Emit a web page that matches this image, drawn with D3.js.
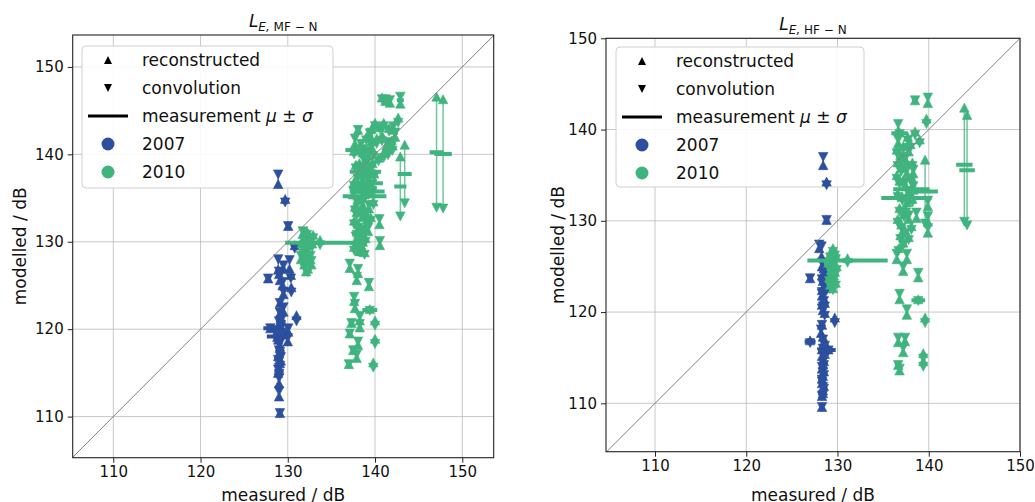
<!DOCTYPE html>
<html>
<head>
<meta charset="utf-8">
<script src="https://cdn.jsdelivr.net/npm/d3@7"></script>
<style>
  body { margin: 0; background: #fff; }
  text { font-family: "DejaVu Sans", sans-serif; }
</style>
</head>
<body>
<svg id="chart" width="1035" height="502"></svg>
<script>
// each event: [measured mean, measured sigma, reconstructed, convolution]  (dB)
const mf2007 = [
  [128.9, 0, 136.6, 137.7], [129.7, 0.4, 134.9, 134.5], [130.05, 0, 131.8, 131.8],
  [130.8, 0, 129.6, 129.2], [128.9, 0, 126.8, 128.0], [130.2, 0, 126.9, 127.9],
  [127.75, 0, 125.8, 125.8], [129.1, 0, 125.6, 126.2], [130.35, 0.4, 126.2, 125.8],
  [130.4, 0, 124.8, 124.2], [129.5, 0, 124.0, 124.3], [129.1, 0, 123.0, 123.0],
  [129.5, 0, 122.0, 122.5], [129.1, 0, 121.8, 121.9], [131.0, 0, 121.6, 120.9],
  [128.0, 0.8, 120.1, 120.1], [129.0, 0, 120.5, 120.9], [129.2, 0, 119.8, 120.2],
  [128.8, 1.2, 119.1, 119.2], [130.05, 0, 119.7, 120.1], [130.0, 0, 118.6, 119.0],
  [129.1, 0, 118.0, 118.4], [129.0, 0, 117.2, 117.6], [129.2, 0, 116.4, 116.8],
  [129.0, 0, 115.6, 115.6], [128.9, 0, 115.0, 115.4], [129.0, 0, 113.8, 114.4],
  [129.0, 0, 112.3, 112.9], [129.1, 0, 110.4, 110.4],
  [129.2, 0, 120.9, 120.5], [128.9, 0, 120.3, 119.9], [129.3, 0, 119.4, 119.0],
  [128.9, 0, 118.8, 118.5], [129.1, 0, 117.8, 117.4], [128.9, 0, 116.9, 116.5],
  [129.1, 0, 116.1, 115.8], [129.0, 0, 115.3, 114.9], [129.2, 0, 121.3, 121.0],
  [128.7, 0, 119.6, 119.5], [129.4, 0, 120.0, 119.6], [129.5, 0, 126.9, 127.3],
  [129.0, 0, 126.3, 126.6], [129.4, 0, 125.0, 125.4]
];

const mf2010 = [
  [140.8, 0, 146.5, 146.3], [141.2, 0.3, 146.1, 146.3], [141.7, 0, 145.9, 146.2],
  [142.9, 0.4, 145.8, 146.6], [142.65, 0, 144.2, 143.6], [138.05, 0, 142.8, 142.8],
  [140.55, 0.5, 143.1, 142.9], [139.4, 0, 142.2, 142.4], [142.3, 0, 142.0, 142.5],
  [141.5, 0, 140.6, 139.9], [137.7, 0, 141.2, 141.8], [138.15, 1.55, 140.6, 140.4],
  [139.0, 0, 142.0, 141.6], [139.6, 0, 141.5, 141.0], [140.2, 0, 141.8, 141.2],
  [140.8, 0, 142.2, 141.5], [141.3, 0, 141.0, 141.4], [141.9, 0, 141.6, 141.0],
  [138.6, 0, 140.2, 140.6], [139.2, 0, 139.8, 140.4], [139.8, 0, 140.4, 139.8],
  [140.4, 0, 139.6, 139.2], [141.0, 0, 140.2, 139.6], [142.0, 0, 141.0, 140.4],
  [141.6, 0, 143.0, 142.6], [141.0, 0, 143.6, 143.2], [142.1, 0, 142.8, 143.2],
  [140.0, 0, 143.6, 143.2], [139.6, 0, 142.9, 142.5],
  [138.2, 0, 139.0, 138.6], [138.8, 0, 138.6, 139.2], [139.4, 0, 138.0, 138.4],
  [138.0, 0, 137.6, 137.2], [138.6, 0, 137.0, 137.4], [139.2, 0, 136.6, 137.0],
  [138.9, 1.8, 138.2, 137.8], [138.2, 0, 136.0, 136.4], [138.8, 0, 135.6, 135.2],
  [139.5, 0, 135.9, 135.5], [139.2, 1.7, 136.9, 136.5], [139.1, 2.0, 135.9, 135.6],
  [138.8, 2.5, 135.4, 135.0], [138.95, 1.25, 136.3, 136.0], [138.0, 0, 134.8, 134.4],
  [138.6, 0, 134.2, 134.6], [139.3, 0, 133.8, 134.2], [137.9, 0, 133.4, 133.0],
  [138.5, 0, 132.8, 133.2], [139.1, 0, 132.6, 132.2], [138.1, 0, 132.0, 131.6],
  [138.7, 0, 131.4, 131.0], [138.3, 0, 130.8, 130.4], [137.8, 0, 130.2, 130.6],
  [138.4, 0, 129.6, 129.2], [138.2, 0, 129.0, 128.8],
  [137.6, 0, 140.4, 140.0], [138.4, 0, 140.8, 141.2], [139.0, 0, 139.4, 139.8],
  [139.7, 0, 139.0, 138.6], [137.8, 0, 138.8, 138.4], [139.9, 0, 137.8, 137.4],
  [137.6, 0, 136.8, 136.4], [139.7, 0, 136.2, 136.6], [137.5, 0, 135.4, 135.8],
  [139.8, 0, 134.6, 134.2], [137.7, 0, 134.0, 133.6], [138.9, 0, 133.4, 133.0],
  [139.5, 0, 132.8, 132.4], [137.6, 0, 132.4, 132.0], [138.9, 0, 131.8, 131.4],
  [137.9, 0, 131.2, 130.8], [138.9, 0, 130.4, 130.0], [138.6, 0, 130.0, 129.7],
  [137.6, 0, 129.4, 129.0], [138.8, 0, 128.8, 128.5],
  [143.4, 0.8, 141.1, 134.4], [142.9, 0.7, 139.75, 132.9],
  [147.05, 0.8, 146.6, 133.9], [147.8, 1.0, 146.3, 133.8],
  [140.5, 0, 132.0, 132.6], [139.2, 0, 131.2, 131.6], [140.55, 0, 129.6, 130.1],
  [138.2, 0, 128.9, 129.3], [137.1, 0, 127.0, 127.5], [138.05, 0, 126.4, 126.9],
  [137.9, 0, 125.6, 126.0], [139.3, 0, 124.9, 125.3], [137.6, 0, 123.2, 123.7],
  [137.7, 0, 122.4, 122.9], [139.4, 0.85, 122.3, 122.1], [138.25, 0, 121.0, 121.5],
  [137.3, 0, 120.7, 120.7], [140.0, 0, 121.0, 120.4], [138.25, 0, 120.2, 120.6],
  [137.1, 0, 119.5, 119.5], [140.0, 0, 118.9, 118.3], [138.05, 0, 118.2, 118.6],
  [137.5, 0, 117.6, 117.6], [137.9, 0, 116.7, 117.1], [137.0, 0, 116.0, 116.0],
  [139.8, 0, 116.2, 115.6],
  [133.7, 4.0, 130.2, 129.6],
  [132.2, 0, 131.2, 130.8], [131.9, 0, 130.6, 130.2], [132.5, 0, 130.4, 130.0],
  [131.6, 0, 129.8, 129.4], [132.3, 0, 129.6, 129.2], [132.8, 0, 129.8, 129.4],
  [131.8, 0, 129.0, 128.6], [132.4, 0, 128.8, 128.4], [132.0, 0, 128.2, 127.8],
  [132.6, 0, 128.0, 128.4], [131.9, 0, 127.4, 127.0], [132.3, 0, 126.9, 126.5],
  [131.7, 0, 130.9, 131.2], [132.9, 0, 130.8, 130.4], [131.5, 0, 128.0, 128.4],
  [132.7, 0, 127.4, 127.8], [132.1, 0, 126.6, 126.9], [132.0, 0, 129.9, 129.5]
];

const hf2007 = [
  [128.43, 0, 136.1, 137.0], [128.8, 0.3, 134.3, 133.9], [128.8, 0, 130.1, 130.1],
  [128.25, 0, 126.1, 127.2], [127.0, 0, 123.7, 123.7], [128.0, 0, 127.0, 127.4],
  [128.3, 0, 125.0, 125.4], [128.6, 0, 124.2, 124.6], [128.4, 0, 123.4, 123.0],
  [128.7, 0, 122.6, 122.2], [128.3, 0, 121.8, 122.2], [128.6, 0, 121.0, 120.6],
  [128.4, 0, 120.2, 120.6], [129.7, 0, 119.4, 118.8], [128.3, 0, 118.6, 118.6],
  [128.2, 0, 117.7, 118.1], [127.0, 0.6, 116.9, 116.6], [129.0, 0.8, 115.9, 115.8],
  [128.4, 0, 116.4, 116.0], [128.3, 0, 115.2, 115.6], [128.5, 0, 114.6, 114.2],
  [128.3, 0, 113.8, 114.0], [128.4, 0, 113.0, 113.4], [128.3, 0, 112.2, 112.6],
  [128.4, 0, 111.4, 111.8], [128.3, 0, 110.8, 110.8], [128.3, 0, 109.6, 109.6],
  [128.5, 0, 124.8, 124.4], [128.3, 0, 124.0, 123.6], [128.6, 0, 123.0, 123.3],
  [128.3, 0, 122.4, 122.0], [128.5, 0, 121.5, 121.2], [128.3, 0, 120.8, 120.4],
  [128.6, 0, 119.9, 119.6], [128.4, 0, 117.3, 117.0], [128.6, 0, 116.7, 116.3],
  [128.3, 0, 115.9, 115.5], [128.6, 0, 115.4, 115.0], [128.4, 0, 114.3, 113.9],
  [128.5, 0, 113.5, 113.1], [128.3, 0, 112.7, 112.4], [128.5, 0, 111.9, 111.6],
  [128.4, 0, 111.1, 110.9]
];

const hf2010 = [
  [131.1, 4.4, 125.9, 125.4],
  [129.5, 0, 127.0, 126.6], [129.2, 0, 126.4, 126.0], [129.8, 0, 126.2, 125.8],
  [129.4, 0, 125.6, 125.2], [129.9, 0, 125.0, 124.6], [129.3, 0, 124.6, 124.2],
  [129.6, 0, 124.0, 123.6], [129.4, 0, 123.4, 123.0], [129.2, 0, 123.0, 122.8],
  [129.7, 0, 126.6, 126.2], [129.0, 0, 125.4, 125.0], [129.7, 0, 124.4, 124.0],
  [129.1, 0, 123.8, 123.4], [129.5, 0, 122.6, 122.4], [129.8, 0, 123.2, 122.9],
  [138.5, 0.3, 143.2, 143.2], [139.9, 0, 142.9, 143.5], [139.75, 0, 141.2, 140.6],
  [136.65, 0, 139.9, 140.6], [136.8, 0.9, 139.7, 139.5], [138.5, 0, 139.8, 139.4],
  [136.65, 0, 138.5, 138.9], [139.0, 0, 138.9, 138.5],
  [137.2, 0, 138.2, 137.8], [137.8, 0, 137.6, 138.0], [136.9, 0, 137.2, 136.8],
  [137.5, 0, 136.6, 137.0], [138.2, 0, 136.4, 136.0], [137.0, 0, 135.8, 135.4],
  [137.6, 0, 135.2, 135.6], [138.1, 0, 134.8, 134.4], [136.8, 0, 134.4, 134.0],
  [137.4, 0, 133.8, 134.2], [137.9, 0, 133.2, 132.8], [137.1, 0, 132.6, 132.2],
  [137.6, 0, 132.0, 132.4], [136.8, 0, 131.4, 131.0], [137.3, 0, 130.8, 130.4],
  [137.8, 0, 130.2, 130.6], [137.0, 0, 129.6, 129.2], [137.4, 0, 129.0, 128.6],
  [136.9, 0, 128.4, 128.0], [137.2, 0, 127.6, 127.3],
  [136.5, 0, 137.8, 137.4], [138.0, 0, 138.4, 138.0], [136.6, 0, 136.4, 136.0],
  [138.3, 0, 135.2, 135.6], [136.5, 0, 135.0, 134.6], [137.2, 0, 134.4, 134.0],
  [138.3, 0, 133.4, 133.8], [136.6, 0, 133.0, 132.6], [138.2, 0, 132.4, 132.0],
  [136.6, 0, 130.2, 129.8], [138.1, 0, 129.4, 129.0], [136.7, 0, 127.0, 126.7],
  [137.8, 0, 128.2, 127.9], [137.5, 0, 131.2, 130.9], [137.2, 0, 136.0, 136.3],
  [137.7, 0, 139.2, 138.8],
  [139.6, 1.4, 136.7, 129.7], [137.55, 2.75, 132.7, 132.3], [138.1, 2.0, 133.6, 133.3],
  [139.9, 0, 131.6, 132.2], [138.65, 0, 130.3, 130.9], [139.9, 0, 129.9, 130.5],
  [139.9, 0, 128.7, 129.2],
  [136.5, 0, 125.8, 126.4], [137.6, 0, 125.8, 126.4], [137.2, 0, 124.5, 125.0],
  [138.85, 0, 123.8, 124.3], [136.8, 0, 121.4, 122.0], [138.85, 0.75, 121.4, 121.2],
  [137.6, 0, 119.7, 120.3], [139.6, 0, 119.4, 118.8], [136.65, 0, 116.7, 117.2],
  [137.4, 0, 116.8, 117.2], [137.2, 0, 115.6, 116.1], [136.65, 0, 114.2, 114.2],
  [136.8, 0, 113.6, 113.8], [139.4, 0, 115.5, 114.9], [139.4, 0, 114.6, 114.0],
  [143.9, 0.9, 142.4, 129.9], [144.2, 0.85, 141.6, 129.5]
];

const tickValues = [110, 120, 130, 140, 150];
const legendLabels = ['reconstructed', 'convolution', 'measurement', '2007', '2010'];

const blue = '#2c4f9e', green = '#3fb47e';

const panels = [
  { sub: 'MF − N', box: [72.7, 35, 493.7, 457.7], xDom: [105.35, 153.6], yDom: [105.3, 153.65],
    series: [{ data: mf2007, color: blue }, { data: mf2010, color: green }],
    legend: [82, 46, 251, 142], ylabX: 26 },
  { sub: 'HF − N', box: [606, 38.3, 1020, 451.7], xDom: [104.63, 150], yDom: [104.7, 150],
    series: [{ data: hf2007, color: blue }, { data: hf2010, color: green }],
    legend: [616, 47, 248, 140], ylabX: 564 }
];

const svg = d3.select('#chart');

// triangle paths, w wide, h tall, centred
const triUp = (w, h) => `M0,${-h / 2}L${w / 2},${h / 2}L${-w / 2},${h / 2}Z`;
const triDown = (w, h) => `M0,${h / 2}L${w / 2},${-h / 2}L${-w / 2},${-h / 2}Z`;

panels.forEach((p, i) => {
  const [L, T, R, B] = p.box;
  const x = d3.scaleLinear().domain(p.xDom).range([L, R]);
  const y = d3.scaleLinear().domain(p.yDom).range([B, T]);
  const g = svg.append('g');

  //Grid
  g.append('g').selectAll('line').data(tickValues.filter(v => v >= p.xDom[0] && v <= p.xDom[1])).join('line')
    .attr('x1', d => x(d)).attr('x2', d => x(d)).attr('y1', T).attr('y2', B)
    .attr('stroke', '#b0b0b0').attr('stroke-opacity', 0.7).attr('stroke-width', 1);
  g.append('g').selectAll('line').data(tickValues.filter(v => v >= p.yDom[0] && v <= p.yDom[1])).join('line')
    .attr('y1', d => y(d)).attr('y2', d => y(d)).attr('x1', L).attr('x2', R)
    .attr('stroke', '#b0b0b0').attr('stroke-opacity', 0.7).attr('stroke-width', 1);

  //Legend box (marks are drawn over it)
  const [lx, ly, lw, lh] = p.legend;
  g.append('rect').attr('x', lx).attr('y', ly).attr('width', lw).attr('height', lh).attr('rx', 4)
    .attr('fill', '#fff').attr('fill-opacity', 0.9).attr('stroke', '#d0d0d0');

  //Clip
  const clipId = 'clip' + i;
  svg.append('clipPath').attr('id', clipId).append('rect')
    .attr('x', L).attr('y', T).attr('width', R - L).attr('height', B - T);
  const plot = g.append('g').attr('clip-path', `url(#${clipId})`);

  //Data
  p.series.forEach(s => {
    const sg = plot.append('g');
    sg.append('g').selectAll('line').data(s.data).join('line')
      .attr('x1', d => x(d[0])).attr('x2', d => x(d[0]))
      .attr('y1', d => y(d[2])).attr('y2', d => y(d[3]))
      .attr('stroke', s.color).attr('stroke-width', 1.5).attr('stroke-opacity', 0.75);
    sg.append('g').selectAll('line').data(s.data.filter(d => d[1] > 0)).join('line')
      .attr('x1', d => x(d[0] - d[1])).attr('x2', d => x(d[0] + d[1]))
      .attr('y1', d => y((d[2] + d[3]) / 2)).attr('y2', d => y((d[2] + d[3]) / 2))
      .attr('stroke', s.color).attr('stroke-width', 4);
    sg.append('g').selectAll('path').data(s.data).join('path')
      .attr('d', triUp(9.5, 9))
      .attr('transform', d => `translate(${x(d[0])},${y(d[2])})`)
      .attr('fill', s.color).attr('stroke', s.color).attr('stroke-width', 0.6);
    sg.append('g').selectAll('path').data(s.data).join('path')
      .attr('d', triDown(9.5, 9))
      .attr('transform', d => `translate(${x(d[0])},${y(d[3])})`)
      .attr('fill', s.color).attr('stroke', s.color).attr('stroke-width', 0.6);
  });

  //Diagonal
  const lo = Math.min(p.xDom[0], p.yDom[0]), hi = Math.max(p.xDom[1], p.yDom[1]);
  plot.append('line')
    .attr('x1', x(lo)).attr('y1', y(lo)).attr('x2', x(hi)).attr('y2', y(hi))
    .attr('stroke', '#808080').attr('stroke-width', 1);

  //Frame
  g.append('rect').attr('x', L).attr('y', T).attr('width', R - L).attr('height', B - T)
    .attr('fill', 'none').attr('stroke', '#222').attr('stroke-width', 1.1);

  //Axes
  const xa = g.append('g').attr('transform', `translate(0,${B})`)
    .call(d3.axisBottom(x).tickValues(tickValues).tickSize(5).tickPadding(4).tickFormat(d3.format('d')));
  const ya = g.append('g').attr('transform', `translate(${L},0)`)
    .call(d3.axisLeft(y).tickValues(tickValues).tickSize(5).tickPadding(4).tickFormat(d3.format('d')));
  [xa, ya].forEach(a => {
    a.select('.domain').remove();
    a.selectAll('line').attr('stroke', '#222');
    a.selectAll('text').attr('font-size', 15).attr('fill', '#111')
      .attr('font-family', '"DejaVu Sans", sans-serif');
  });

  //Labels
  const cx = (L + R) / 2, cy = (T + B) / 2;
  g.append('text').attr('x', cx).attr('y', 501).attr('text-anchor', 'middle')
    .attr('font-size', 17).attr('fill', '#111').text('measured / dB');
  g.append('text').attr('transform', `translate(${p.ylabX},${cy}) rotate(-90)`)
    .attr('text-anchor', 'middle').attr('font-size', 17).attr('fill', '#111').text('modelled / dB');

  //Title
  const title = g.append('text').attr('x', cx).attr('y', T - 8).attr('text-anchor', 'middle').attr('fill', '#111');
  title.append('tspan').attr('font-size', 17).attr('font-style', 'italic').text('L');
  title.append('tspan').attr('font-size', 12).attr('font-style', 'italic').attr('dy', 4).text('E,');
  title.append('tspan').attr('font-size', 12).text(' ' + p.sub);

  //Legend entries
  const lg = g.append('g').attr('transform', `translate(${lx},${ly})`);
  const rowY = k => 14 + k * 28;
  lg.append('path').attr('d', triUp(8, 8)).attr('transform', `translate(26,${rowY(0)})`).attr('fill', '#000');
  lg.append('path').attr('d', triDown(8, 8)).attr('transform', `translate(26,${rowY(1)})`).attr('fill', '#000');
  lg.append('line').attr('x1', 6).attr('x2', 46).attr('y1', rowY(2)).attr('y2', rowY(2))
    .attr('stroke', '#000').attr('stroke-width', 3);
  lg.append('circle').attr('cx', 26).attr('cy', rowY(3)).attr('r', 6.5).attr('fill', blue);
  lg.append('circle').attr('cx', 26).attr('cy', rowY(4)).attr('r', 6.5).attr('fill', green);
  legendLabels.forEach((t, k) => {
    const tx = lg.append('text').attr('x', 60).attr('y', rowY(k) + 6).attr('font-size', 17).attr('fill', '#111');
    if (k === 2) {
      tx.append('tspan').text(t + ' ');
      tx.append('tspan').attr('font-style', 'italic').text('μ');
      tx.append('tspan').text(' ± ');
      tx.append('tspan').attr('font-style', 'italic').text('σ');
    } else {
      tx.text(t);
    }
  });
});
</script>
</body>
</html>
